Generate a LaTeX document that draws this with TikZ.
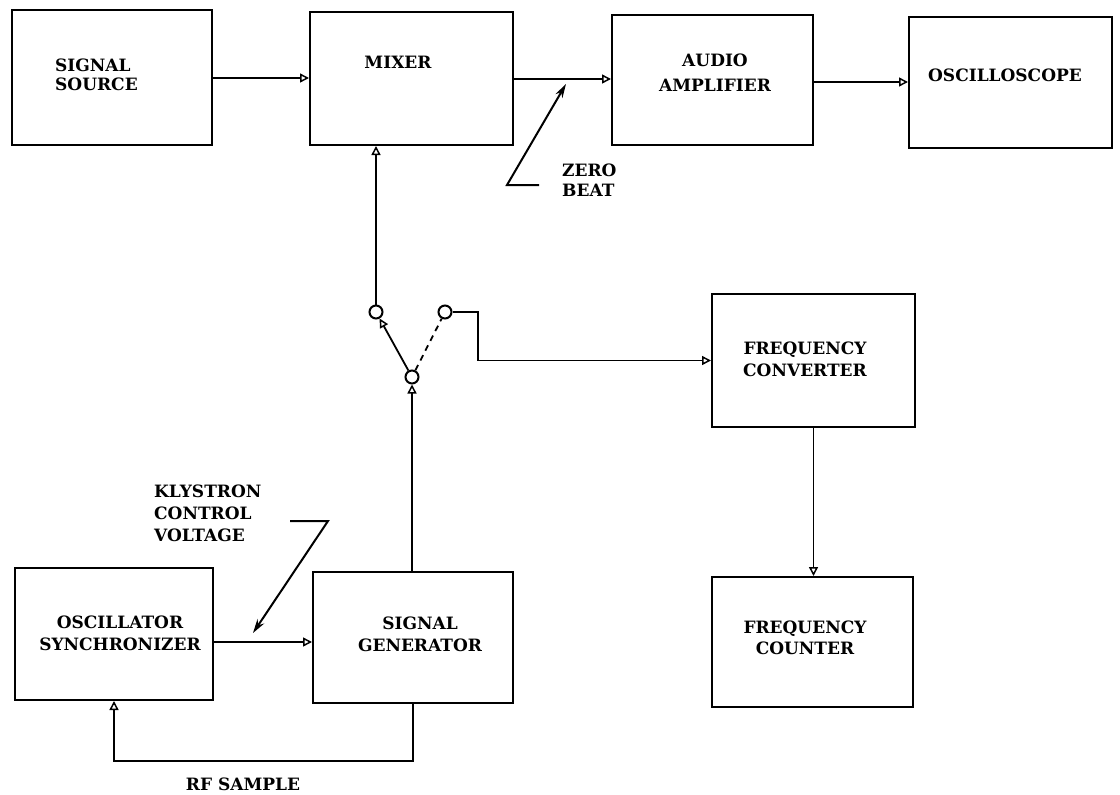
\documentclass[tikz,border=0pt]{standalone}
\usepackage{fontspec}
\newfontfamily\lblfont{DejaVu Serif}
\usetikzlibrary{arrows.meta}
\begin{document}
\begin{tikzpicture}[x=1pt,y=-1pt,
  box/.style={draw, line width=2pt, inner sep=0pt},
  lbl/.style={font=\lblfont\bfseries\fontsize{17}{22}\selectfont, inner sep=0pt},
  conn/.style={line width=1.8pt, -{Triangle[open,length=9pt,width=9pt,line width=1.5pt]}},
  plain/.style={line width=1.8pt},
  lead/.style={line width=2pt, -{Stealth[length=14pt,width=8pt]}},
  sw/.style={circle, draw, line width=2pt, minimum size=13pt, inner sep=0pt}]
\useasboundingbox (0,0) rectangle (1120,795);
% boxes
\node[box, minimum width=200pt, minimum height=135pt] (src) at (112,77.5) {};
\node[box, minimum width=203pt, minimum height=133pt] (mix) at (411.5,78.5) {};
\node[box, minimum width=201pt, minimum height=130pt] (amp) at (712.5,80) {};
\node[box, minimum width=203pt, minimum height=131pt] (osc) at (1010.5,82.5) {};
\node[box, minimum width=203pt, minimum height=133pt] (fc) at (813.5,360.5) {};
\node[box, minimum width=201pt, minimum height=130pt] (cnt) at (812.5,642) {};
\node[box, minimum width=198pt, minimum height=132pt] (syn) at (114,634) {};
\node[box, minimum width=200pt, minimum height=131pt] (gen) at (413,637.5) {};
% box texts
\node[lbl, align=left, anchor=west, font=\lblfont\bfseries\fontsize{17}{18.5}\selectfont] (tsrc) at (55,75) {SIGNAL\\SOURCE};
\node[lbl] (tmix) at (398,62) {MIXER};
\node[lbl, align=center, font=\lblfont\bfseries\fontsize{17}{24.5}\selectfont] (tamp) at (715,72.5) {AUDIO\\AMPLIFIER};
\node[lbl] (tosc) at (1005,75) {OSCILLOSCOPE};
\node[lbl, align=center] (tfc) at (805,359) {FREQUENCY\\CONVERTER};
\node[lbl, align=center, font=\lblfont\bfseries\fontsize{17}{20.5}\selectfont] (tcnt) at (805,638) {FREQUENCY\\COUNTER};
\node[lbl, align=center] (tsyn) at (120,633) {OSCILLATOR\\SYNCHRONIZER};
\node[lbl, align=center] (tgen) at (420,634) {SIGNAL\\GENERATOR};
% free labels
\node[lbl, align=left, anchor=west, font=\lblfont\bfseries\fontsize{17}{20.5}\selectfont] (tzb) at (562,180) {ZERO\\BEAT};
\node[lbl, align=left, anchor=west] (tkv) at (154,513) {KLYSTRON\\CONTROL\\VOLTAGE};
\node[lbl] (trf) at (243,784) {RF SAMPLE};
% switch
\node[sw] (swL) at (376,312) {};
\node[sw] (swR) at (445,312) {};
\node[sw] (swP) at (412,377) {};
% connectors
\draw[conn] (src.east |- 0,78) -- (mix.west |- 0,78);
\draw[conn] (mix.east |- 0,79) -- (amp.west |- 0,79);
\draw[conn] (amp.east |- 0,82) -- (osc.west |- 0,82);
\draw[conn] (swL) -- (swL |- mix.south);
\draw[conn] (swP) -- (swL);
\draw[plain, dash pattern=on 6pt off 5pt] (swP) -- (swR);
\coordinate (c1) at (478,312);
\draw[conn] (swR) -- (c1) -- (c1 |- fc.west) -- (fc.west);
\draw[conn] (swP |- gen.north) -- (swP);
\draw[conn] (fc.south) -- (fc.south |- cnt.north);
\draw[conn] ([yshift=-8pt]syn.east) -- ([yshift=-8pt]syn.east -| gen.west);
\draw[conn] (gen.south) -- ++(0,57) -| (syn.south);
% leaders
\coordinate (zb1) at (539,185);
\coordinate (zb2) at (507,185);
\coordinate (zbt) at (566,84);
\draw[lead] (zb1) -- (zb2) -- (zbt);
\coordinate (kv1) at (290,521);
\coordinate (kv2) at (328,521);
\coordinate (kvt) at (253,633);
\draw[lead] (kv1) -- (kv2) -- (kvt);
\end{tikzpicture}
\end{document}
